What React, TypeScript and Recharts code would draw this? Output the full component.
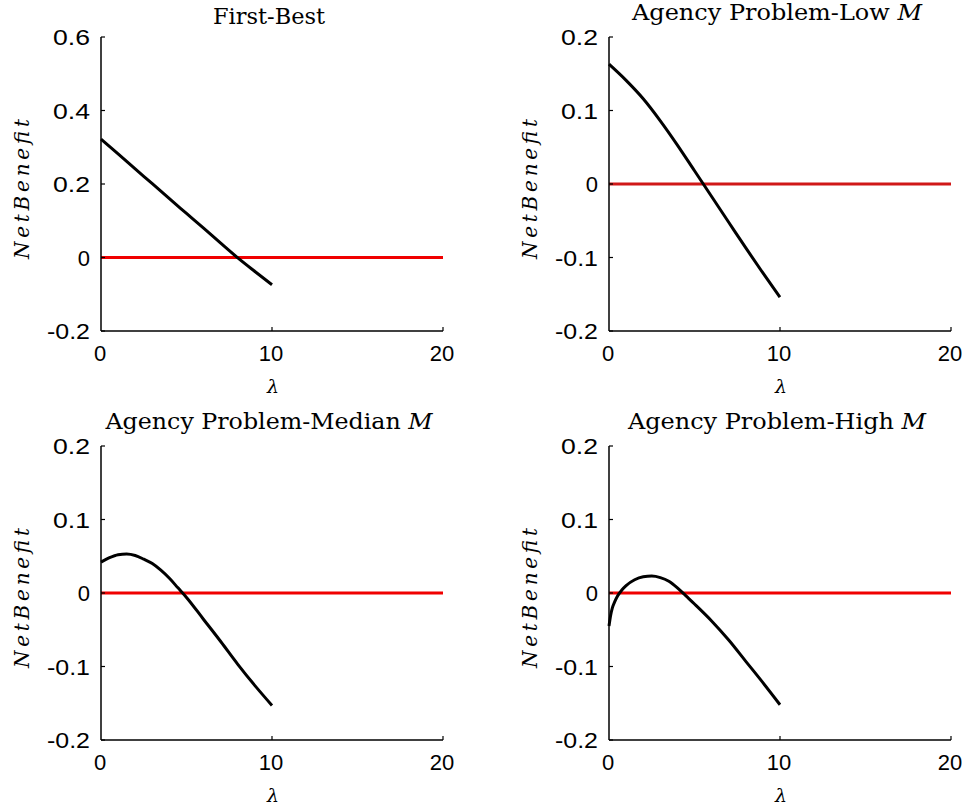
import React from 'react';
import { LineChart, Line, XAxis, YAxis } from 'recharts';

// ---------- data ----------
const lambdaFirstBest = [0, 1, 2, 3, 4, 5, 6, 7, 8, 9, 10];
const netBenefitFirstBest = [0.322, 0.282, 0.241, 0.201, 0.16, 0.12, 0.08, 0.039, -0.001, -0.038, -0.074];

const lambdaLow = [0, 1, 2, 3, 4, 5, 6, 7, 8, 9, 10];
const netBenefitLow = [0.163, 0.141, 0.116, 0.086, 0.053, 0.018, -0.017, -0.052, -0.087, -0.121, -0.154];

const lambdaMedian = [0, 0.5, 1, 1.5, 2, 2.5, 3, 3.5, 4, 4.5, 5, 6, 7, 8, 9, 10];
const netBenefitMedian = [0.042, 0.048, 0.052, 0.053, 0.051, 0.046, 0.04, 0.031, 0.02, 0.007, -0.006, -0.036, -0.066, -0.097, -0.126, -0.153];

const lambdaHigh = [0, 0.1, 0.2, 0.35, 0.5, 0.75, 1, 1.5, 2, 2.5, 3, 3.5, 4, 4.5, 5, 6, 7, 8, 9, 10];
const netBenefitHigh = [-0.045, -0.03, -0.02, -0.011, -0.004, 0.004, 0.01, 0.018, 0.022, 0.023, 0.021, 0.016, 0.007, -0.004, -0.015, -0.038, -0.064, -0.093, -0.122, -0.152];

const zeroLineLambda = [0, 20];
const xDomain = [0, 20];
const xTicks = [0, 10, 20];
const yDomainFirstBest = [-0.2, 0.6];
const yTicksFirstBest = [-0.2, 0, 0.2, 0.4, 0.6];
const yDomainAgency = [-0.2, 0.2];
const yTicksAgency = [-0.2, -0.1, 0, 0.1, 0.2];

const titles = ['First-Best', 'Agency Problem-Low ', 'Agency Problem-Median ', 'Agency Problem-High '];
const titleMath = ['', 'M', 'M', 'M'];
const yLabel = 'NetBenefit';
const xLabel = 'λ';

// ---------- helpers ----------
function buildRows(lambdas: number[], values: number[]) {
  const rows: any[] = lambdas.map((l, i) => ({ lambda: l, netBenefit: values[i], zero: null }));
  zeroLineLambda.forEach((z) => {
    const found = rows.find((r) => r.lambda === z);
    if (found) found.zero = 0;
    else rows.push({ lambda: z, netBenefit: null, zero: 0 });
  });
  rows.sort((a, b) => a.lambda - b.lambda);
  return rows;
}

const fmt = (v: number) => {
  if (Math.abs(v) < 1e-9) return '0';
  return v < 0 ? '-' + String(Math.abs(v)) : String(v);
};

const Y_GAP = 11;
const X_GAP = 12;
const SANS = 'Liberation Sans, Arial, sans-serif';
const SERIF = 'DejaVu Serif, serif';

const YTick = (props: any) => {
  const { x, y, payload } = props;
  const label = fmt(payload.value);
  const axisX = x + Y_GAP;
  const tl = label.includes('.') ? (label.startsWith('-') ? 43 : 37) : undefined;
  return (
    <g>
      <line x1={axisX} x2={axisX + 4} y1={y} y2={y} stroke="#000" strokeWidth={1.2} />
      <text
        x={x}
        y={y}
        dy={8}
        textAnchor="end"
        fontFamily={SANS}
        fontSize={22}
        fill="#000"
        {...(tl ? { textLength: tl, lengthAdjust: 'spacingAndGlyphs' } : {})}
      >
        {label}
      </text>
    </g>
  );
};

const XTick = (props: any) => {
  const { x, y, payload } = props;
  const label = fmt(payload.value);
  const axisY = y - X_GAP;
  return (
    <g>
      {payload.value !== 0 && (
        <line x1={x} x2={x} y1={axisY} y2={axisY - 4} stroke="#000" strokeWidth={1.2} />
      )}
      <text x={x - 1} y={axisY + 30} textAnchor="middle" fontFamily={SANS} fontSize={22} fill="#000">
        {label}
      </text>
    </g>
  );
};

const W = 484;
const H = 406;
const PLOT_W = 342;
const PLOT_H = 294;
const Y_AXIS_W = 60;
const X_AXIS_H = 40;

type PanelProps = {
  ox: number;
  oy: number;
  plotLeft: number;
  plotTop: number;
  rows: any[];
  yDomain: number[];
  yTicks: number[];
  title: string;
  math: string;
  titleBaseline: number;
  titleLength: number;
  redColor: string;
};

const Panel = (p: PanelProps) => {
  const margin = {
    top: p.plotTop,
    left: p.plotLeft - Y_AXIS_W,
    right: W - p.plotLeft - PLOT_W,
    bottom: H - p.plotTop - PLOT_H - X_AXIS_H,
  };
  const cx = p.plotLeft + PLOT_W / 2;
  const labels = () => (
    <g>
      <text
        x={cx - 3}
        y={p.titleBaseline}
        textAnchor="middle"
        fontFamily={SERIF}
        fontSize={23}
        fill="#000"
        textLength={p.titleLength}
        lengthAdjust="spacingAndGlyphs"
      >
        {p.title}
        {p.math && <tspan fontStyle="italic">{p.math}</tspan>}
      </text>
      <text
        x={p.plotLeft - 79}
        y={p.plotTop + PLOT_H / 2 + 5}
        transform={`rotate(-90 ${p.plotLeft - 79} ${p.plotTop + PLOT_H / 2 + 5})`}
        textAnchor="middle"
        dominantBaseline="central"
        fontFamily={SERIF}
        fontStyle="italic"
        fontSize={20}
        fill="#000"
        textLength={140}
      >
        {yLabel}
      </text>
      <text
        x={cx + 1}
        y={p.plotTop + PLOT_H + 62}
        textAnchor="middle"
        fontFamily={SERIF}
        fontStyle="italic"
        fontSize={19}
        fill="#000"
      >
        {xLabel}
      </text>
    </g>
  );
  return (
    <div style={{ position: 'absolute', left: p.ox, top: p.oy, width: W, height: H }}>
      <LineChart width={W} height={H} data={p.rows} margin={margin}>
        <XAxis
          dataKey="lambda"
          type="number"
          domain={xDomain}
          ticks={xTicks}
          interval={0}
          height={X_AXIS_H}
          tickSize={0}
          tickMargin={X_GAP}
          tickLine={false}
          axisLine={{ stroke: '#000', strokeWidth: 1.5 }}
          tick={<XTick />}
          label={labels}
        />
        <YAxis
          type="number"
          domain={p.yDomain}
          ticks={p.yTicks}
          interval={0}
          width={Y_AXIS_W}
          tickSize={0}
          tickMargin={Y_GAP}
          tickLine={false}
          allowDataOverflow
          axisLine={{ stroke: '#000', strokeWidth: 1.5 }}
          tick={<YTick />}
        />
        <Line
          dataKey="zero"
          stroke={p.redColor}
          strokeWidth={3}
          dot={false}
          activeDot={false}
          connectNulls
          isAnimationActive={false}
          type="linear"
        />
        <Line
          dataKey="netBenefit"
          stroke="#000"
          strokeWidth={3}
          dot={false}
          activeDot={false}
          isAnimationActive={false}
          type="monotone"
        />
      </LineChart>
    </div>
  );
};

export default function App() {
  return (
    <div style={{ position: 'absolute', left: 0, top: 0, width: 968, height: 812, background: '#fff' }}>
      <Panel
        ox={0}
        oy={0}
        plotLeft={101}
        plotTop={37}
        rows={buildRows(lambdaFirstBest, netBenefitFirstBest)}
        yDomain={yDomainFirstBest}
        yTicks={yTicksFirstBest}
        title={titles[0]}
        math={titleMath[0]}
        titleBaseline={24}
        titleLength={112}
        redColor="#f00000"
      />
      <Panel
        ox={484}
        oy={0}
        plotLeft={125}
        plotTop={37}
        rows={buildRows(lambdaLow, netBenefitLow)}
        yDomain={yDomainAgency}
        yTicks={yTicksAgency}
        title={titles[1]}
        math={titleMath[1]}
        titleBaseline={20}
        titleLength={290}
        redColor="#d01818"
      />
      <Panel
        ox={0}
        oy={406}
        plotLeft={101}
        plotTop={40}
        rows={buildRows(lambdaMedian, netBenefitMedian)}
        yDomain={yDomainAgency}
        yTicks={yTicksAgency}
        title={titles[2]}
        math={titleMath[2]}
        titleBaseline={23}
        titleLength={327}
        redColor="#f00000"
      />
      <Panel
        ox={484}
        oy={406}
        plotLeft={125}
        plotTop={40}
        rows={buildRows(lambdaHigh, netBenefitHigh)}
        yDomain={yDomainAgency}
        yTicks={yTicksAgency}
        title={titles[3]}
        math={titleMath[3]}
        titleBaseline={23}
        titleLength={298}
        redColor="#f00000"
      />
    </div>
  );
}
